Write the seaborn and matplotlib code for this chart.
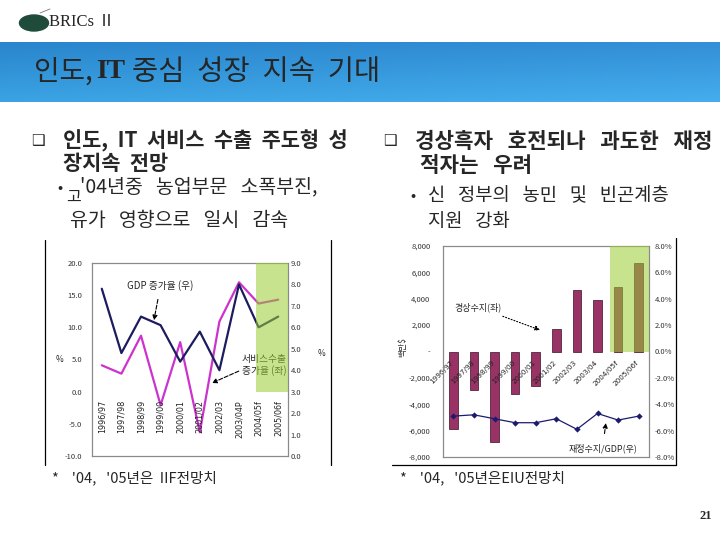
import numpy as np
import pandas as pd
import seaborn as sns
import matplotlib.pyplot as plt
from matplotlib.lines import Line2D
from matplotlib.patches import Ellipse
from matplotlib.ticker import FuncFormatter, MultipleLocator

# ---- data ----
left_years = ["1996/97", "1997/98", "1998/99", "1999/00", "2000/01",
              "2001/02", "2002/03", "2003/04P", "2004/05f", "2005/06f"]
services_growth = [4.1, 2.8, 8.7, -2.1, 7.7, -6.3, 10.9, 17.0, 13.7, 14.3]   # left axis, %
gdp_growth = [7.8, 4.8, 6.5, 6.1, 4.4, 5.8, 4.0, 8.0, 6.0, 6.5]              # right axis, %

right_years = ["1996/97", "1997/98", "1998/99", "1999/00", "2000/01",
               "2001/02", "2002/03", "2003/04", "2004/05f", "2005/06f"]
current_account = [-5900, -2900, -6900, -3200, -2600, 1700, 4700, 3900, 4900, 6700]  # left axis
fiscal_balance = [-4.9, -4.8, -5.1, -5.4, -5.4, -5.1, -5.9, -4.7, -5.2, -4.9]       # right axis, % of GDP

sns.set_theme(style="white")
plt.rcParams['font.family'] = ['Noto Sans CJK KR', 'DejaVu Sans']

W, H = 720, 540
fig = plt.figure(figsize=(7.2, 5.4), dpi=100)
fig.patch.set_facecolor("white")


def px(x, y):
    return x / W, 1 - y / H


def ftext(x, y, s, **kw):
    kw.setdefault("va", "center")
    kw.setdefault("ha", "left")
    fig.text(*px(x, y), s, **kw)


def axes_box(x0, y0, x1, y1):
    return [x0 / W, 1 - y1 / H, (x1 - x0) / W, (y1 - y0) / H]


# ---- header ----
ax_ban = fig.add_axes(axes_box(0, 42, 720, 102))
g = np.linspace(0, 1, 60)[:, None, None]
h = np.linspace(0, 1, 200)[None, :, None]
top = np.array([0.16, 0.52, 0.80])
bot = np.array([0.23, 0.64, 0.89])
img = top * (1 - g) + bot * g + 0.04 * h
ax_ban.imshow(np.clip(img, 0, 1), aspect="auto")
ax_ban.axis("off")

fig.add_artist(Ellipse(px(34, 23), 29 / W, 16 / H, color="#1f4b3b"))
fig.add_artist(Line2D([40 / W, 50 / W], [1 - 13 / H, 1 - 9 / H], color="#777777", lw=0.6))
ftext(49, 22, "BRICs Ⅱ", fontsize=12, family=['Liberation Serif', 'Noto Sans CJK KR'])

ftext(34, 72, "인도,", fontsize=20)
ftext(96, 72, "IT", fontsize=20, family=['Liberation Serif'], weight="bold")
ftext(132, 72, "중심  성장  지속  기대", fontsize=20.5)

# ---- body text ----
ftext(31, 141, "❑", fontsize=11, family=['DejaVu Sans'])
ftext(63, 141, "인도,  IT  서비스  수출  주도형  성", fontsize=15, weight="bold")
ftext(63, 163, "장지속  전망", fontsize=15, weight="bold")
ftext(57, 188, "•", fontsize=11)
ftext(66, 197, "고", fontsize=11.5)
ftext(80, 187, "'04년중   농업부문   소폭부진,", fontsize=14)
ftext(70, 220, "유가   영향으로   일시   감속", fontsize=14)

ftext(383, 141, "❑", fontsize=11, family=['DejaVu Sans'])
ftext(415, 141, "경상흑자   호전되나   과도한   재정", fontsize=15.3, weight="bold")
ftext(420, 166, "적자는   우려", fontsize=15.3, weight="bold")
ftext(410, 196, "•", fontsize=11)
ftext(428, 196, "신   정부의   농민   및   빈곤계층", fontsize=13.5)
ftext(428, 222, "지원   강화", fontsize=13.5)

ftext(52, 478, "*    '04,   '05년은  IIF전망치", fontsize=10.5)
ftext(400, 478, "*    '04,   '05년은EIU전망치", fontsize=10.5)
ftext(712, 516, "21", fontsize=9, ha="right", family=['Liberation Serif'], weight="bold")

# chart frames
for xs, ys in [([45, 45], [240, 465]), ([331, 331], [240, 465]),
               ([676, 676], [238, 465]), ([392, 676], [465, 465])]:
    fig.add_artist(Line2D([x / W for x in xs], [1 - y / H for y in ys], color="black", lw=0.9))

tick_kw = dict(labelsize=5.5, labelcolor="#333333", length=0)
shade_color = "#9acd32"
grey = "#8a8a8a"

# ---- left chart: services exports growth vs GDP growth ----
df_left = pd.DataFrame({"pos": range(len(left_years)), "services": services_growth, "gdp": gdp_growth})
ax1 = fig.add_axes(axes_box(92, 263, 288, 456))
sns.lineplot(data=df_left, x="pos", y="services", ax=ax1, color="#cc33cc", lw=1.6)
ax1b = ax1.twinx()
sns.lineplot(data=df_left, x="pos", y="gdp", ax=ax1b, color="#1c1c5e", lw=1.6)

ax1.set_xlim(-0.5, 9.5)
ax1.set_ylim(-10, 20)
ax1b.set_ylim(0, 9)
ax1.yaxis.set_major_locator(MultipleLocator(5))
ax1b.yaxis.set_major_locator(MultipleLocator(1))
ax1.yaxis.set_major_formatter(FuncFormatter(lambda v, p: f"{v:.1f}"))
ax1b.yaxis.set_major_formatter(FuncFormatter(lambda v, p: f"{v:.1f}"))
ax1.tick_params(axis="y", pad=7, **tick_kw)
ax1b.tick_params(axis="y", pad=2, **tick_kw)
ax1.tick_params(axis="x", length=0, labelbottom=False)
for a in (ax1, ax1b):
    a.set_xlabel("")
    a.set_ylabel("")
    for s in a.spines.values():
        s.set_color(grey)
        s.set_linewidth(0.8)

for i, lab in enumerate(left_years):
    ax1.annotate(lab, (i, 0), xytext=(0, -6), textcoords="offset points",
                 rotation=90, ha="center", va="top", fontsize=5.8, color="#222222",
                 family=['DejaVu Sans'])

ax1b.axvspan(7.85, 9.5, ymin=1 / 3, ymax=1, color=shade_color, alpha=0.55, lw=0, zorder=10)

ax1.annotate("GDP 증가율 (우)", xy=(2.66, 11.1), xytext=(0.35, 0.885), textcoords="axes fraction",
             ha="center", va="center", fontsize=7,
             arrowprops=dict(arrowstyle="-|>", linestyle="--", lw=0.8, color="black",
                             mutation_scale=7, shrinkA=4, shrinkB=0))
ax1.annotate("서비스수출\n증가율 (좌)", xy=(5.62, 1.35), xytext=(0.995, 0.47), textcoords="axes fraction",
             ha="right", va="center", fontsize=7, linespacing=1.1,
             arrowprops=dict(arrowstyle="-|>", linestyle="--", lw=0.8, color="black",
                             mutation_scale=7, shrinkA=28, shrinkB=0, relpos=(0, 0.3)))
ftext(56, 360, "%", fontsize=6)
ftext(318, 353, "%", fontsize=6)

# ---- right chart: current account vs fiscal balance ----
df_right = pd.DataFrame({"year": right_years, "pos": range(len(right_years)),
                         "ca": current_account, "fiscal": fiscal_balance})
ax2 = fig.add_axes(axes_box(443, 246, 649, 457))
sns.barplot(data=df_right, x="year", y="ca", order=right_years, ax=ax2, color="#993366",
            saturation=1, width=0.42, edgecolor="#3a0f24", linewidth=0.5)
ax2b = ax2.twinx()
sns.lineplot(data=df_right, x="pos", y="fiscal", ax=ax2b, color="#1c1c6e", lw=0.9,
             marker="D", markersize=3.2, markeredgewidth=0)

ax2.set_xlim(-0.5, 9.5)
ax2.set_ylim(-8000, 8000)
ax2b.set_ylim(-8, 8)
ax2.yaxis.set_major_locator(MultipleLocator(2000))
ax2b.yaxis.set_major_locator(MultipleLocator(2))
ax2.yaxis.set_major_formatter(FuncFormatter(lambda v, p: "-" if abs(v) < 1e-9 else f"{v:,.0f}"))
ax2b.yaxis.set_major_formatter(FuncFormatter(lambda v, p: f"{v:.1f}%"))
ax2.tick_params(axis="y", pad=9, **tick_kw)
ax2b.tick_params(axis="y", pad=4, **tick_kw)
ax2.tick_params(axis="x", length=0, labelbottom=False)
for a in (ax2, ax2b):
    a.set_xlabel("")
    a.set_ylabel("")
    for s in a.spines.values():
        s.set_color(grey)
        s.set_linewidth(0.8)

for i, lab in enumerate(right_years):
    ax2.annotate(lab, (i, 0), xytext=(1, -6), textcoords="offset points",
                 rotation=45, ha="right", va="top", fontsize=5.2, color="#222222",
                 family=['DejaVu Sans'], zorder=5)

ax2b.axvspan(7.62, 9.5, ymin=0.5, ymax=1, color=shade_color, alpha=0.55, lw=0, zorder=10)

ax2.annotate("경상수지(좌)", xy=(4.21, 1630), xytext=(0.17, 0.71), textcoords="axes fraction",
             ha="center", va="center", fontsize=6.5,
             arrowprops=dict(arrowstyle="-|>", linestyle=":", lw=0.8, color="black",
                             mutation_scale=7, shrinkA=2, shrinkB=0))
ax2b.annotate("재정수지/GDP(우)", xy=(7.41, -5.42), xytext=(0.777, 0.04), textcoords="axes fraction",
              ha="center", va="center", fontsize=6.5,
              arrowprops=dict(arrowstyle="-|>", linestyle="--", lw=0.8, color="black",
                              mutation_scale=7, shrinkA=5, shrinkB=0, relpos=(0.5, 1)))
fig.text(*px(403, 347), "백만$", fontsize=6, rotation=90, ha="center", va="center")

fig.savefig("out.png", dpi=100)
